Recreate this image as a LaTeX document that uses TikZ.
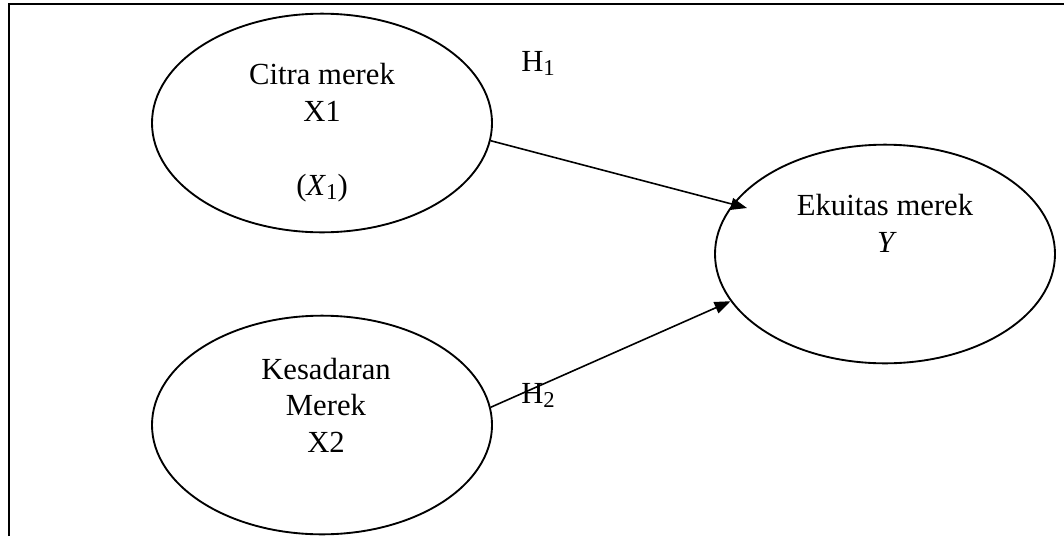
\documentclass[tikz,border=0pt]{standalone}
\usepackage{fontspec}
\setmainfont{Liberation Serif}
\usetikzlibrary{shapes.geometric,arrows.meta}
\newcommand{\mysub}[1]{\raisebox{-0.35ex}{\fontsize{17}{17}\selectfont #1}}
\begin{document}
\begin{tikzpicture}[x=0.75pt,y=-0.75pt,
  oval/.style={draw,ellipse,line width=1.4pt,minimum width=255pt,minimum height=164pt,inner sep=0pt},
  lbl/.style={anchor=base,inner sep=0pt,font=\fontsize{23}{28}\selectfont},
  conn/.style={line width=1.2pt,-{Triangle[length=12pt,width=9pt]}}]
\useasboundingbox (0,0) rectangle (1064,536);
\draw[line width=1.6pt] (9,536) -- (9,4) -- (1064,4);
\node[oval] (c1) at (322,123) {};
\node[oval] (c2) at (322,425) {};
\node[oval] (c3) at (885,254) {};
\node[lbl] (t1a) at (322,84) {Citra merek};
\node[lbl] (t1b) at (322,121) {X1};
\node[lbl] (t1c) at (322,195) {(\textit{X}\mysub{1})};
\node[lbl] (t2a) at (326,379) {Kesadaran};
\node[lbl] (t2b) at (326,415) {Merek};
\node[lbl] (t2c) at (326,452) {X2};
\node[lbl] (t3a) at (885,215) {Ekuitas merek};
\node[lbl] (t3b) at (887,252) {\textit{Y}};
\node[lbl,anchor=base west] (h1) at (521,71) {H\mysub{1}};
\node[lbl,anchor=base west] (h2) at (521,403) {H\mysub{2}};
\coordinate (tip1) at (747,208);
\draw[conn] (c1.-6) -- (tip1);
\draw[conn] (c2.6.6) -- (c3.-163);
\end{tikzpicture}
\end{document}
